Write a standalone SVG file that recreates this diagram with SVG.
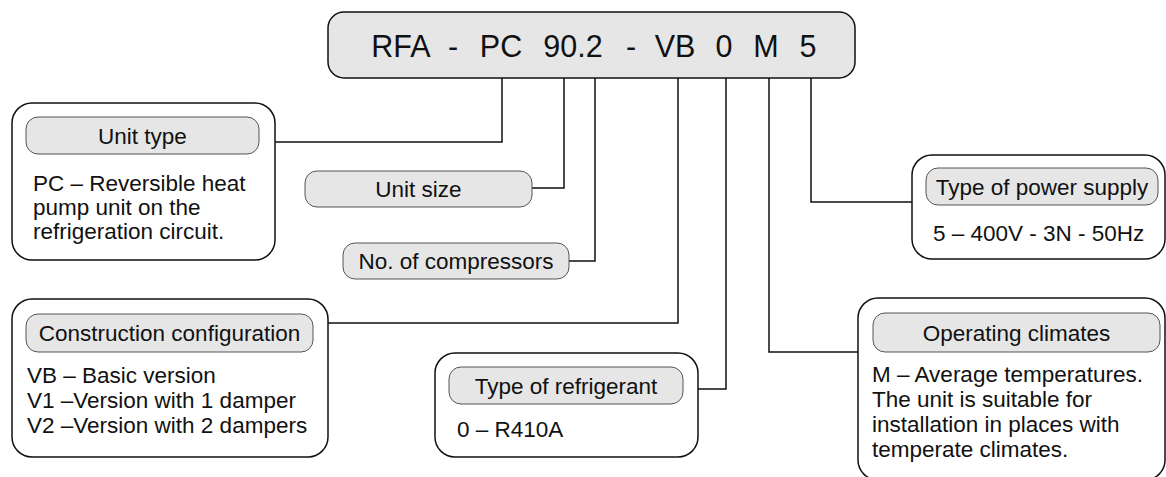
<svg xmlns="http://www.w3.org/2000/svg" width="1166" height="477" viewBox="0 0 1166 477">
<style>
.box{fill:#fff;stroke:#111;stroke-width:1.5}
.pill{fill:#e6e6e6;stroke:#555;stroke-width:1}
.code{fill:#e6e6e6;stroke:#111;stroke-width:1.5}
.t{font-family:"Liberation Sans",Arial,Helvetica,sans-serif;font-size:22.5px;fill:#111}
.lbl{text-anchor:middle}
.big{font-family:"Liberation Sans",Arial,Helvetica,sans-serif;font-size:30.5px;fill:#111;text-anchor:middle}
.conn{fill:none;stroke:#111;stroke-width:1.5}
</style>
<rect width="1166" height="477" fill="#fff"/>
<g id="connectors">
<polyline class="conn" points="275,142 502,142 502,78"/>
<polyline class="conn" points="532,188 564,188 564,78"/>
<polyline class="conn" points="569,261 595,261 595,78"/>
<polyline class="conn" points="328,323 678,323 678,78"/>
<polyline class="conn" points="698,389 726,389 726,78"/>
<polyline class="conn" points="858,352 769,352 769,78"/>
<polyline class="conn" points="912,202 811,202 811,78"/>
</g>
<g id="code">
<rect class="code" x="328" y="12" width="527" height="66" rx="16"/>
<text class="big" y="57"><tspan x="401">RFA</tspan><tspan x="453">-</tspan><tspan x="501">PC</tspan><tspan x="573">90.2</tspan><tspan x="631">-</tspan><tspan x="675">VB</tspan><tspan x="724">0</tspan><tspan x="766">M</tspan><tspan x="808">5</tspan></text>
</g>
<g id="unit-type">
<rect class="box" x="12" y="103" width="263" height="157" rx="20"/>
<rect class="pill" x="26" y="117" width="233" height="37" rx="12"/>
<text class="t lbl" x="142.5" y="143.5">Unit type</text>
<text class="t" x="33" y="191">PC – Reversible heat</text>
<text class="t" x="33" y="215">pump unit on the</text>
<text class="t" x="33" y="239">refrigeration circuit.</text>
</g>
<g id="unit-size">
<rect class="pill" x="305" y="171" width="227" height="36" rx="12"/>
<text class="t lbl" x="418.5" y="197">Unit size</text>
</g>
<g id="compressors">
<rect class="pill" x="343" y="243" width="226" height="36" rx="12"/>
<text class="t lbl" x="456" y="269">No. of compressors</text>
</g>
<g id="construction">
<rect class="box" x="12" y="299" width="316" height="158" rx="20"/>
<rect class="pill" x="26" y="314" width="287" height="38" rx="12"/>
<text class="t lbl" x="169.5" y="341">Construction configuration</text>
<text class="t" x="27" y="383">VB – Basic version</text>
<text class="t" x="27" y="408">V1 –Version with 1 damper</text>
<text class="t" x="27" y="433">V2 –Version with 2 dampers</text>
</g>
<g id="refrigerant">
<rect class="box" x="435" y="353" width="263" height="104" rx="20"/>
<rect class="pill" x="449" y="367" width="234" height="37" rx="12"/>
<text class="t lbl" x="566" y="393.5">Type of refrigerant</text>
<text class="t" x="457" y="437">0 – R410A</text>
</g>
<g id="climates">
<rect class="box" x="858" y="298" width="307" height="182" rx="20"/>
<rect class="pill" x="873" y="313" width="287" height="39" rx="12"/>
<text class="t lbl" x="1016.5" y="340.5">Operating climates</text>
<text class="t" x="872" y="382">M – Average temperatures.</text>
<text class="t" x="872" y="407">The unit is suitable for</text>
<text class="t" x="872" y="432">installation in places with</text>
<text class="t" x="872" y="457">temperate climates.</text>
</g>
<g id="power">
<rect class="box" x="912" y="155" width="253" height="104" rx="20"/>
<rect class="pill" x="926" y="168" width="232" height="37" rx="12"/>
<text class="t lbl" x="1042" y="194.5">Type of power supply</text>
<text class="t" x="933" y="241">5 – 400V - 3N - 50Hz</text>
</g>
</svg>
